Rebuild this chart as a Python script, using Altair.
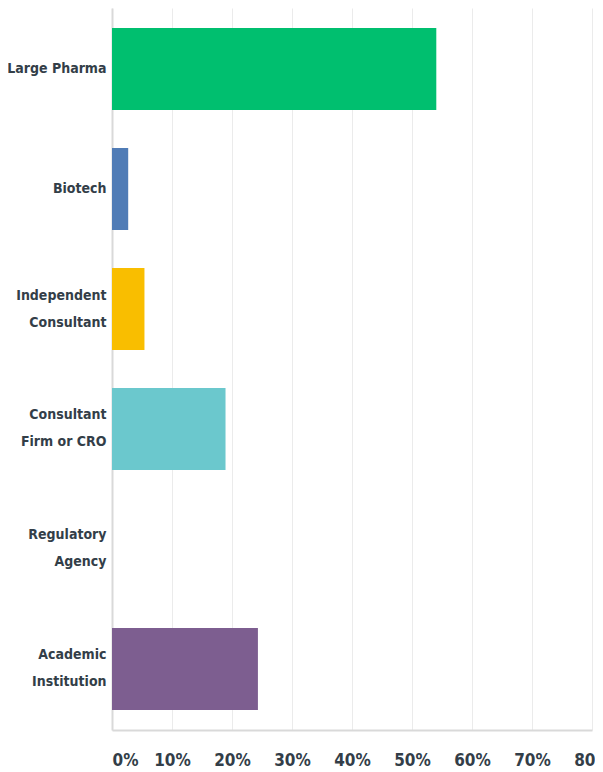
import altair as alt
import pandas as pd

categories = ["Large Pharma", "Biotech", "Independent\nConsultant",
              "Consultant\nFirm or CRO", "Regulatory\nAgency", "Academic\nInstitution"]
percent = [54.05, 2.70, 5.41, 18.92, 0.0, 24.32]
colors = ["#00bf6f", "#507cb6", "#f9be00", "#6bc8cd", "#a7a8aa", "#7d5e90"]
x_ticks = [0, 10, 20, 30, 40, 50, 60, 70, 80]

df = pd.DataFrame({"category": categories, "percent": percent})

FONT = "'DejaVu Sans Condensed', Roboto, sans-serif"
TXT = "#333e48"

chart = alt.Chart(df).mark_bar().encode(
    y=alt.Y("category:N", sort=categories,
            scale=alt.Scale(paddingInner=0.317, paddingOuter=0.167),
            axis=alt.Axis(title=None, labelExpr="split(datum.label, '\\n')",
                          labelFont=FONT, labelFontSize=14, labelFontWeight="bold",
                          labelColor=TXT, labelLineHeight=27, labelPadding=6,
                          labelOffset=alt.expr("indexof(datum.value, '\\n') >= 0 ? -13.5 : 0"),
                          ticks=False, domainColor="#d9d9d9", domainWidth=2,
                          labelLimit=200)),
    x=alt.X("percent:Q", scale=alt.Scale(domain=[0, 80], nice=False),
            axis=alt.Axis(title=None, values=x_ticks, labelExpr="datum.value + '%'",
                          labelFont=FONT, labelFontSize=17, labelFontWeight="bold",
                          labelColor=TXT, labelPadding=22, ticks=False,
                          labelAlign=alt.expr("datum.value == 0 ? 'left' : 'center'"),
                          domainColor="#d9d9d9", domainWidth=2,
                          grid=True, gridColor="#ebebeb", gridWidth=1)),
    color=alt.Color("category:N", sort=categories,
                    scale=alt.Scale(domain=categories, range=colors), legend=None),
).properties(
    width=480, height=722,
    autosize=alt.AutoSizeParams(type="none"),
    padding={"left": 104, "top": 0, "right": 3, "bottom": 40},
).configure_view(stroke=None)

chart.save("out.html", embed_options={"renderer": "svg", "actions": False})
